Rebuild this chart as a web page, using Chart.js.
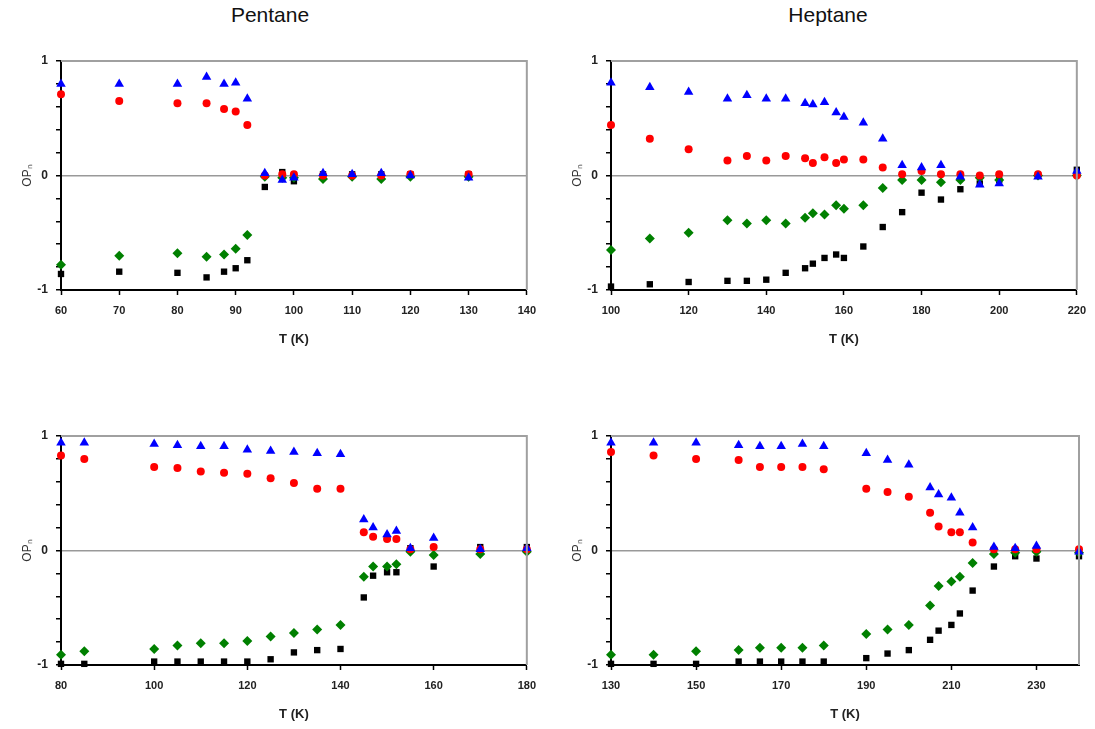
<!DOCTYPE html>
<html>
<head>
<meta charset="utf-8">
<script src="https://cdn.jsdelivr.net/npm/chart.js@4"></script>
<style>
  body { margin: 0; background: #fff; width: 1095px; height: 729px; position: relative; overflow: hidden; }
  .title { position: absolute; top: 3px; font: 21px "Liberation Sans", Arial, sans-serif; color: #111; text-align: center; width: 200px; }
  .panel { position: absolute; width: 545px; height: 312px; }
</style>
</head>
<body>
<div class="title" style="left:170px">Pentane</div>
<div class="title" style="left:728px">Heptane</div>
<div class="panel" style="left:0;top:40px"><canvas id="c1"></canvas></div>
<div class="panel" style="left:550px;top:40px"><canvas id="c2"></canvas></div>
<div class="panel" style="left:0;top:415px"><canvas id="c3"></canvas></div>
<div class="panel" style="left:550px;top:415px"><canvas id="c4"></canvas></div>
<script>
// top left: pentane
const pentATemps = [60, 70, 80, 85, 88, 90, 92, 95, 98, 100, 105, 110, 115, 120, 130]
const pentATri = [0.80, 0.80, 0.80, 0.86, 0.80, 0.81, 0.67, 0.02, -0.04, -0.02, 0.02, 0.01, 0.02, 0, -0.02]
const pentACirc = [0.71, 0.65, 0.63, 0.63, 0.58, 0.56, 0.44, 0, 0.01, 0.01, 0, 0, 0, 0.01, 0.01]
const pentADiam = [-0.78, -0.70, -0.68, -0.71, -0.69, -0.64, -0.52, -0.01, -0.02, -0.02, -0.03, -0.01, -0.03, -0.01, -0.01]
const pentASq = [-0.86, -0.84, -0.85, -0.89, -0.84, -0.81, -0.74, -0.10, 0.03, -0.05, 0.01, 0.01, 0.01, 0.01, 0.01]
const pentATicks = [60, 70, 80, 90, 100, 110, 120, 130, 140]

// top right: heptane
const heptATemps = [100, 110, 120, 130, 135, 140, 145, 150, 152, 155, 158, 160, 165, 170, 175, 180, 185, 190, 195, 200, 210, 220]
const heptATri = [0.81, 0.77, 0.73, 0.67, 0.70, 0.67, 0.67, 0.63, 0.62, 0.64, 0.55, 0.51, 0.46, 0.32, 0.09, 0.07, 0.09, -0.01, -0.08, -0.07, -0.01, 0.04]
const heptACirc = [0.44, 0.32, 0.23, 0.13, 0.17, 0.13, 0.17, 0.15, 0.11, 0.16, 0.11, 0.14, 0.14, 0.07, 0.01, 0.04, 0.01, 0.01, 0, 0.01, 0.01, 0]
const heptADiam = [-0.65, -0.55, -0.50, -0.39, -0.42, -0.39, -0.42, -0.37, -0.33, -0.34, -0.26, -0.29, -0.26, -0.11, -0.04, -0.04, -0.06, -0.04, -0.02, -0.04, 0, 0]
const heptASq = [-0.97, -0.95, -0.93, -0.92, -0.92, -0.91, -0.85, -0.81, -0.77, -0.72, -0.69, -0.72, -0.62, -0.45, -0.32, -0.15, -0.21, -0.12, -0.07, -0.04, 0, 0.05]
const heptATicks = [100, 120, 140, 160, 180, 200, 220]

// bottom left: pentane
const pentBTemps = [80, 85, 100, 105, 110, 115, 120, 125, 130, 135, 140, 145, 147, 150, 152, 155, 160, 170, 180]
const pentBTri = [0.94, 0.94, 0.93, 0.92, 0.91, 0.91, 0.88, 0.87, 0.86, 0.85, 0.84, 0.27, 0.20, 0.14, 0.17, 0.02, 0.11, 0.01, 0.02]
const pentBCirc = [0.83, 0.80, 0.73, 0.72, 0.69, 0.68, 0.67, 0.63, 0.59, 0.54, 0.54, 0.16, 0.12, 0.10, 0.10, 0.01, 0.03, 0.01, 0.01]
const pentBDiam = [-0.91, -0.88, -0.86, -0.83, -0.81, -0.81, -0.79, -0.75, -0.72, -0.69, -0.65, -0.23, -0.14, -0.14, -0.12, -0.01, -0.04, -0.03, -0.01]
const pentBSq = [-0.99, -0.99, -0.97, -0.97, -0.97, -0.97, -0.97, -0.95, -0.89, -0.87, -0.86, -0.41, -0.22, -0.19, -0.19, 0.02, -0.14, 0.03, 0.03]
const pentBTicks = [80, 100, 120, 140, 160, 180]

// bottom right: heptane
const heptBTemps = [130, 140, 150, 160, 165, 170, 175, 180, 190, 195, 200, 205, 207, 210, 212, 215, 220, 225, 230, 240]
const heptBTri = [0.94, 0.94, 0.94, 0.92, 0.91, 0.91, 0.93, 0.91, 0.85, 0.79, 0.75, 0.55, 0.49, 0.46, 0.33, 0.20, 0.03, 0.02, 0.04, -0.01]
const heptBCirc = [0.86, 0.83, 0.80, 0.79, 0.73, 0.73, 0.73, 0.71, 0.54, 0.51, 0.47, 0.33, 0.21, 0.16, 0.16, 0.07, 0.01, 0.01, 0.01, 0.01]
const heptBDiam = [-0.91, -0.91, -0.88, -0.87, -0.85, -0.85, -0.85, -0.83, -0.73, -0.69, -0.65, -0.48, -0.31, -0.27, -0.23, -0.11, -0.03, -0.02, -0.01, -0.02]
const heptBSq = [-0.99, -0.99, -0.99, -0.97, -0.97, -0.97, -0.97, -0.97, -0.94, -0.90, -0.87, -0.78, -0.70, -0.65, -0.55, -0.35, -0.14, -0.05, -0.07, -0.05]
const heptBTicks = [130, 150, 170, 190, 210, 230]

const yTickLabels = ['-1', '0', '1']

const FONT = '"Liberation Sans", Arial, sans-serif'

const frame = {
  id: 'frame',
  afterDatasetsDraw(chart) {
    const { ctx, chartArea: a } = chart
    ctx.save()
    ctx.strokeStyle = '#a0a0a0'
    ctx.lineWidth = 2
    ctx.beginPath()
    ctx.moveTo(a.left, a.top)
    ctx.lineTo(a.right, a.top)
    ctx.lineTo(a.right, a.bottom)
    ctx.stroke()
    ctx.restore()
  },
}

function pts(xs, ys) {
  return xs.map((x, i) => ({ x, y: ys[i] }))
}

function makePanel(id, temps, tri, circ, diam, sq, xTicks, xMin, xMax, rightPad) {
  const common = { showLine: false, clip: false, borderWidth: 0 }
  new Chart(document.getElementById(id), {
    type: 'scatter',
    data: {
      datasets: [
        { ...common, label: 'OP1', data: pts(temps, tri), pointStyle: 'triangle', pointRadius: 5.5, backgroundColor: '#0000ff', borderColor: '#0000ff' },
        { ...common, label: 'OP2', data: pts(temps, circ), pointStyle: 'circle', pointRadius: 4, backgroundColor: '#ff0000', borderColor: '#ff0000' },
        { ...common, label: 'OP3', data: pts(temps, diam), pointStyle: 'rectRot', pointRadius: 5, backgroundColor: '#008000', borderColor: '#008000' },
        { ...common, label: 'OP4', data: pts(temps, sq), pointStyle: 'rect', pointRadius: 4.5, backgroundColor: '#000000', borderColor: '#000000' },
      ],
    },
    options: {
      responsive: true,
      maintainAspectRatio: false,
      animation: false,
      layout: { padding: { top: 21, right: rightPad, left: 0, bottom: 0 } },
      plugins: { legend: { display: false }, tooltip: { enabled: false } },
      scales: {
        x: {
          type: 'linear',
          min: xMin,
          max: xMax,
          afterBuildTicks: s => { s.ticks = xTicks.map(v => ({ value: v })) },
          afterFit: s => { s.height = 62 },
          border: { color: '#000', width: 2 },
          grid: { drawOnChartArea: false, tickColor: '#000', tickLength: 5, tickWidth: 1.5 },
          ticks: {
            autoSkip: false,
            maxRotation: 0,
            padding: 9,
            color: '#222',
            font: { family: FONT, size: 11, weight: 'bold' },
          },
          title: {
            display: true,
            text: 'T (K)',
            color: '#222',
            padding: { top: 0, bottom: 5 },
            font: { family: FONT, size: 13, weight: 'bold' },
          },
        },
        y: {
          min: -1,
          max: 1,
          afterFit: s => { s.width = 61 },
          border: { color: '#000', width: 2 },
          grid: {
            color: c => (c.tick && Math.abs(c.tick.value) < 1e-6 ? '#999' : 'rgba(0,0,0,0)'),
            lineWidth: 1.5,
            tickColor: '#000',
            tickLength: 5,
            tickWidth: 1.5,
          },
          ticks: {
            stepSize: 0.2,
            autoSkip: false,
            padding: 8,
            color: '#222',
            font: { family: FONT, size: 12, weight: 'bold' },
            callback: v => {
              const r = Math.round(v * 10) / 10
              return yTickLabels.includes(String(r)) ? String(r) : ''
            },
          },
          title: {
            display: true,
            text: 'OPₙ',
            color: '#333',
            padding: { top: 20, bottom: 0 },
            font: { family: FONT, size: 12 },
          },
        },
      },
    },
    plugins: [frame],
  })
}

makePanel('c1', pentATemps, pentATri, pentACirc, pentADiam, pentASq, pentATicks, 60, 140, 17)
makePanel('c2', heptATemps, heptATri, heptACirc, heptADiam, heptASq, heptATicks, 100, 220, 16)
makePanel('c3', pentBTemps, pentBTri, pentBCirc, pentBDiam, pentBSq, pentBTicks, 80, 180, 17)
makePanel('c4', heptBTemps, heptBTri, heptBCirc, heptBDiam, heptBSq, heptBTicks, 130, 240, 16)
</script>
</body>
</html>
